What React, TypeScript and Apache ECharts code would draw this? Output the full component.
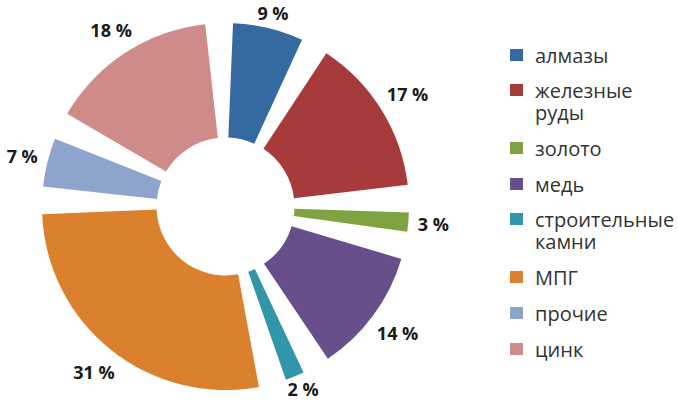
import React, { useEffect, useRef } from "react";
import * as echarts from "echarts";

const categories = [
  "алмазы",
  "железные\nруды",
  "золото",
  "медь",
  "строительные\nкамни",
  "МПГ",
  "прочие",
  "цинк",
];
const values = [9, 17, 3, 14, 2, 31, 7, 18];
const colors = [
  "#356aa0",
  "#a73a3a",
  "#7ea340",
  "#674f8c",
  "#3296aa",
  "#db802d",
  "#8ea4cc",
  "#cf8a8a",
];

const FONT = "'Open Sans', 'DejaVu Sans', sans-serif";
const LABEL_GAP = 9;
const LABEL_VIS_H = 15;
const W = 678;
const H = 402;

export default function App() {
  const ref = useRef<HTMLDivElement>(null);
  useEffect(() => {
    if (!ref.current) return;
    const chart = echarts.init(ref.current, undefined, { renderer: "svg" });
    const richA = {
      fontSize: 20,
      fontFamily: FONT,
      color: "#333333",
      lineHeight: 22,
    };
    let markerY = 55;
    const legends = categories.map((name) => {
      const multi = name.includes("\n");
      const top = markerY - (multi ? 39 : 16);
      markerY += multi ? 57 : 36;
      return {
        orient: "vertical",
        left: 505,
        top,
        itemWidth: 13,
        itemHeight: 12,
        icon: "rect",
        selectedMode: false,
        textStyle: {
          fontSize: 20,
          fontFamily: FONT,
          color: "#333333",
          lineHeight: 22,
          padding: multi ? [22, 0, 0, 7] : [0, 0, 0, 7],
          rich: { a: richA },
        },
        formatter: (n: string) =>
          n
            .split("\n")
            .map((s) => `{a|${s}}`)
            .join("\n"),
        data: [name],
      };
    });
    chart.setOption({
      animation: false,
      color: colors,
      legend: legends,
      series: [
        {
          type: "pie",
          center: [225.5, 206.5],
          radius: [69, 183.5],
          startAngle: 92,
          padAngle: 8.7,
          minAngle: 6,
          avoidLabelOverlap: false,
          silent: true,
          label: {
            show: true,
            position: "outside",
            formatter: "{c} %",
            fontSize: 18,
            fontWeight: "bold",
            fontFamily: FONT,
            color: "#1a1a1a",
            distanceToLabelLine: 0,
          },
          labelLine: {
            show: true,
            length: 10,
            length2: 0,
            lineStyle: { opacity: 0, width: 0 },
          },
          labelLayout: (params: any) => {
            const pts = params.labelLinePoints;
            if (!pts || pts.length < 2) return {};
            const p1 = pts[0];
            const p2 = pts[1];
            const dx = p2[0] - p1[0];
            const dy = p2[1] - p1[1];
            const len = Math.hypot(dx, dy) || 1;
            const ux = dx / len;
            const uy = dy / len;
            const w = params.labelRect ? params.labelRect.width : 40;
            const off =
              LABEL_GAP + Math.abs(ux) * (w / 2) + Math.abs(uy) * (LABEL_VIS_H / 2);
            let x = p1[0] + ux * off;
            let y = p1[1] + uy * off;
            y = Math.max(13, Math.min(H - 13, y));
            x = Math.max(w / 2 + 2, Math.min(W - w / 2 - 2, x));
            return { x, y, align: "center", verticalAlign: "middle" };
          },
          data: categories.map((name, i) => ({ name, value: values[i] })),
        },
      ],
    });
    return () => chart.dispose();
  }, []);
  return (
    <div
      ref={ref}
      style={{ position: "absolute", left: 0, top: 0, width: W, height: H, background: "#fff" }}
    />
  );
}
